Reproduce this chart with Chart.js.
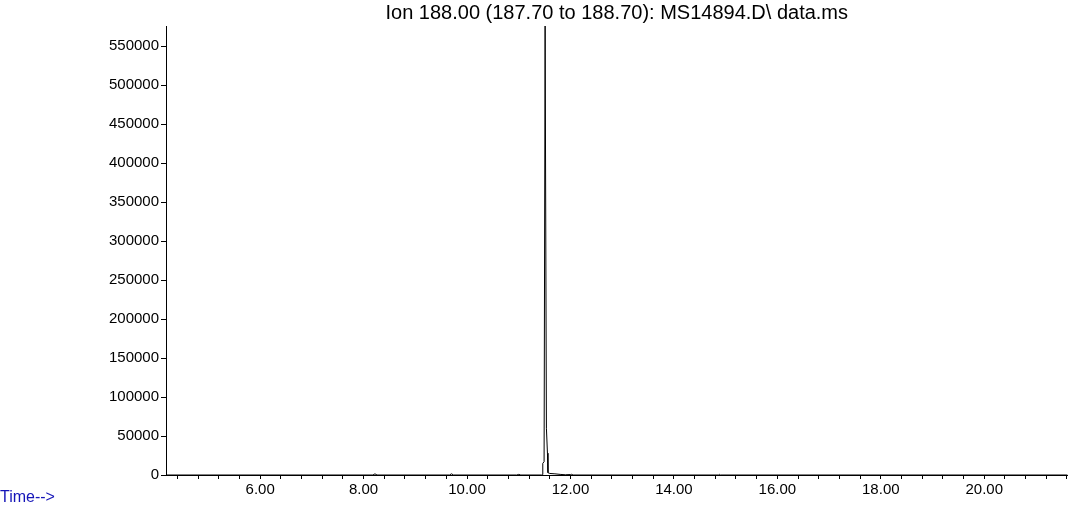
<!DOCTYPE html>
<html>
<head>
<meta charset="utf-8">
<title>Ion 188.00</title>
<script src="https://cdn.jsdelivr.net/npm/chart.js@4.4.1/dist/chart.umd.min.js"></script>
<style>
  html, body { margin: 0; padding: 0; background: #fff; }
  #wrap { width: 1069px; height: 508px; }
</style>
</head>
<body>
<div id="wrap"><canvas id="ticChart"></canvas></div>
<script>
// retention time (min) and abundance
var times  = [4.18, 8.18, 8.22, 8.26, 9.66, 9.70, 9.74, 10.96, 11.00, 11.04, 11.44, 11.46, 11.465, 11.49, 11.51, 11.535, 11.555, 11.565, 11.60, 11.70, 11.80, 11.90, 12.00, 12.02, 12.05, 14.86, 14.88, 14.90, 21.61];
var counts = [0, 0, 1500, 0, 0, 1500, 0, 0, 800, 0, 0, 500, 15000, 17000, 576000, 60000, 28000, 3000, 2000, 1500, 800, 300, 600, 900, 0, 0, 800, 0, 0];

var xRange = [4.18, 21.61];
var yRange = [0, 576000];
var xStep = 0.4;      // minor tick spacing, labels every 2.00
var yTicks = [0, 50000, 100000, 150000, 200000, 250000, 300000, 350000, 400000, 450000, 500000, 550000];

var titleText = 'Ion 188.00 (187.70 to 188.70): MS14894.D\\ data.ms';
var axisLabel = 'Time-->';

document.addEventListener('DOMContentLoaded', function(){
    var pts = times.map(function(t, i){ return {x: t, y: counts[i]}; });
    var font = 'Liberation Sans, Arial, sans-serif';

    new Chart(document.getElementById('ticChart'), {
        type: 'line',
        data: { datasets: [{ data: pts, borderColor: '#000', borderWidth: 1, pointRadius: 0, tension: 0, fill: false }] },
        options: {
            responsive: true,
            maintainAspectRatio: false,
            animation: false,
            layout: { padding: 0 },
            plugins: {
                legend: { display: false },
                tooltip: { enabled: false },
                title: {
                    display: true, text: titleText, color: '#000', fullSize: false,
                    font: { family: font, size: 20, weight: 'normal', lineHeight: 1.2 },
                    padding: { top: 1, bottom: 1 }
                },
                subtitle: {
                    // sits over the bottom of the x axis box, like the original
                    display: true, text: axisLabel, color: '#1414b8', position: 'bottom', align: 'start',
                    font: { family: font, size: 16, weight: 'normal', lineHeight: 1 },
                    padding: { top: -10, bottom: 2 }
                }
            },
            scales: {
                x: {
                    type: 'linear', min: xRange[0], max: xRange[1],
                    border: { color: '#000', width: 1 },
                    grid: { drawOnChartArea: false, color: '#000', tickLength: 4 },
                    ticks: {
                        stepSize: xStep, includeBounds: false, autoSkip: false, maxRotation: 0, maxTicksLimit: 100,
                        color: '#000', padding: 2, font: { family: font, size: 15 },
                        callback: function(v){
                            var r = v / 2;
                            return Math.abs(r - Math.round(r)) < 1e-6 ? v.toFixed(2) : '';
                        }
                    },
                    afterFit: function(s){ s.height = 25; }
                },
                y: {
                    min: yRange[0], max: yRange[1],
                    border: { color: '#000', width: 1 },
                    grid: { drawOnChartArea: false, color: '#000', tickLength: 5 },
                    ticks: {
                        autoSkip: false, color: '#000', padding: 2,
                        font: { family: font, size: 15 },
                        callback: function(v){ return String(v); }
                    },
                    // fixed 50000 steps that stop below the top of the axis
                    afterBuildTicks: function(s){
                        s.ticks = yTicks.map(function(v){ return {value: v}; });
                    },
                    afterFit: function(s){ s.width = 166; }
                }
            }
        }
    });
});
</script>
</body>
</html>
